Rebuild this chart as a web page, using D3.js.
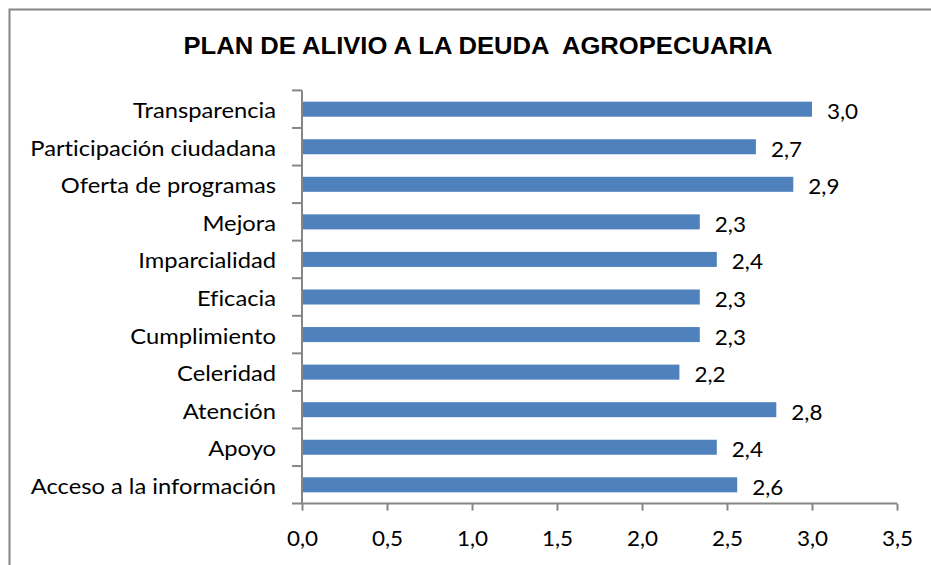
<!DOCTYPE html>
<html>
<head>
<meta charset="utf-8">
<script src="https://cdn.jsdelivr.net/npm/d3@7"></script>
<style>
  html, body { margin: 0; padding: 0; background: #fff; }
  svg { display: block; }
  text { font-variant-ligatures: none; }
</style>
</head>
<body>
<svg id="chart" width="931" height="565"></svg>
<script>
// Survey scores per dimension (scale 0–3.5), listed top to bottom
const categories = [
  "Transparencia",
  "Participación ciudadana",
  "Oferta de programas",
  "Mejora",
  "Imparcialidad",
  "Eficacia",
  "Cumplimiento",
  "Celeridad",
  "Atención",
  "Apoyo",
  "Acceso a la información"
];
const values = [3.00, 2.67, 2.89, 2.34, 2.44, 2.34, 2.34, 2.22, 2.79, 2.44, 2.56];
const xTicks = [0, 0.5, 1, 1.5, 2, 2.5, 3, 3.5];
const title = "PLAN DE ALIVIO A LA DEUDA  AGROPECUARIA";

const data = categories.map((c, i) => ({ name: c, value: values[i] }));

const svg = d3.select("#chart");
const axisColor = "#868686";
const labelFont = "Lato, 'Open Sans', sans-serif";
const comma = d3.formatLocale({ decimal: ",", thousands: ".", grouping: [3], currency: ["", ""] }).format(".1f");

// Horizontal stretch for the wide label lettering
const catStretch = 1.13;
const numStretch = 1.07;

const plot = { left: 302, right: 897, top: 90.4, bottom: 503.6 };

// Outer chart frame
svg.append("rect")
  .attr("x", 9.5).attr("y", 9.5)
  .attr("width", 940).attr("height", 580)
  .attr("fill", "none")
  .attr("stroke", axisColor)
  .attr("stroke-width", 2);

// Title
svg.append("text")
  .attr("transform", "translate(478,53.5) scale(1.09,1)")
  .attr("text-anchor", "middle")
  .attr("font-family", "'Liberation Sans', Arial, sans-serif")
  .attr("font-weight", "bold")
  .attr("font-size", 23.5)
  .attr("fill", "#000")
  .style("white-space", "pre")
  .text(title);

const x = d3.scaleLinear().domain([0, 3.5]).range([plot.left, plot.right]);
const y = d3.scaleBand().domain(categories)
  .range([plot.top, plot.bottom])
  .paddingInner(0.6).paddingOuter(0.3);

// Bars
svg.append("g").selectAll("rect")
  .data(data)
  .join("rect")
  .attr("x", x(0))
  .attr("y", d => y(d.name))
  .attr("width", d => x(d.value) - x(0))
  .attr("height", y.bandwidth())
  .attr("fill", "#4F81BD");

// Value labels
svg.append("g").selectAll("text")
  .data(data)
  .join("text")
  .attr("transform", d => `translate(${x(d.value) + 15},${y(d.name) + y.bandwidth() / 2 + 10}) scale(${numStretch},1)`)
  .attr("font-family", labelFont)
  .attr("font-size", 21)
  .attr("fill", "#000")
  .text(d => comma(d.value));

// Horizontal axis
const xAxis = svg.append("g")
  .attr("transform", `translate(0,${plot.bottom})`)
  .call(d3.axisBottom(x).tickValues(xTicks).tickSize(7).tickPadding(11).tickFormat(comma));
xAxis.select(".domain").attr("stroke", axisColor).attr("stroke-width", 2)
  .attr("d", `M${plot.left - 10},0H${plot.right}`);
xAxis.selectAll(".tick line").attr("stroke", axisColor).attr("stroke-width", 2);
xAxis.selectAll(".tick text")
  .attr("y", 0).attr("dy", null)
  .attr("transform", `translate(0,42) scale(${numStretch},1)`)
  .attr("font-family", labelFont)
  .attr("font-size", 21)
  .attr("fill", "#000");

// Vertical category axis: line plus ticks at band boundaries
const step = y.step();
const boundaries = categories.map(c => y(c) - step * 0.3);
const yAxis = svg.append("g");
yAxis.append("line")
  .attr("x1", plot.left).attr("x2", plot.left)
  .attr("y1", plot.top).attr("y2", plot.bottom)
  .attr("stroke", axisColor).attr("stroke-width", 2);
yAxis.selectAll(".btick")
  .data(boundaries)
  .join("line")
  .attr("class", "btick")
  .attr("x1", plot.left - 10).attr("x2", plot.left)
  .attr("y1", d => d).attr("y2", d => d)
  .attr("stroke", axisColor).attr("stroke-width", 2);

// Category labels
yAxis.selectAll(".cat")
  .data(categories)
  .join("text")
  .attr("class", "cat")
  .attr("transform", c => `translate(276,${y(c) + y.bandwidth() / 2 + 9}) scale(${catStretch},1)`)
  .attr("text-anchor", "end")
  .attr("font-family", labelFont)
  .attr("font-size", 21)
  .attr("fill", "#000")
  .text(c => c);
</script>
</body>
</html>
